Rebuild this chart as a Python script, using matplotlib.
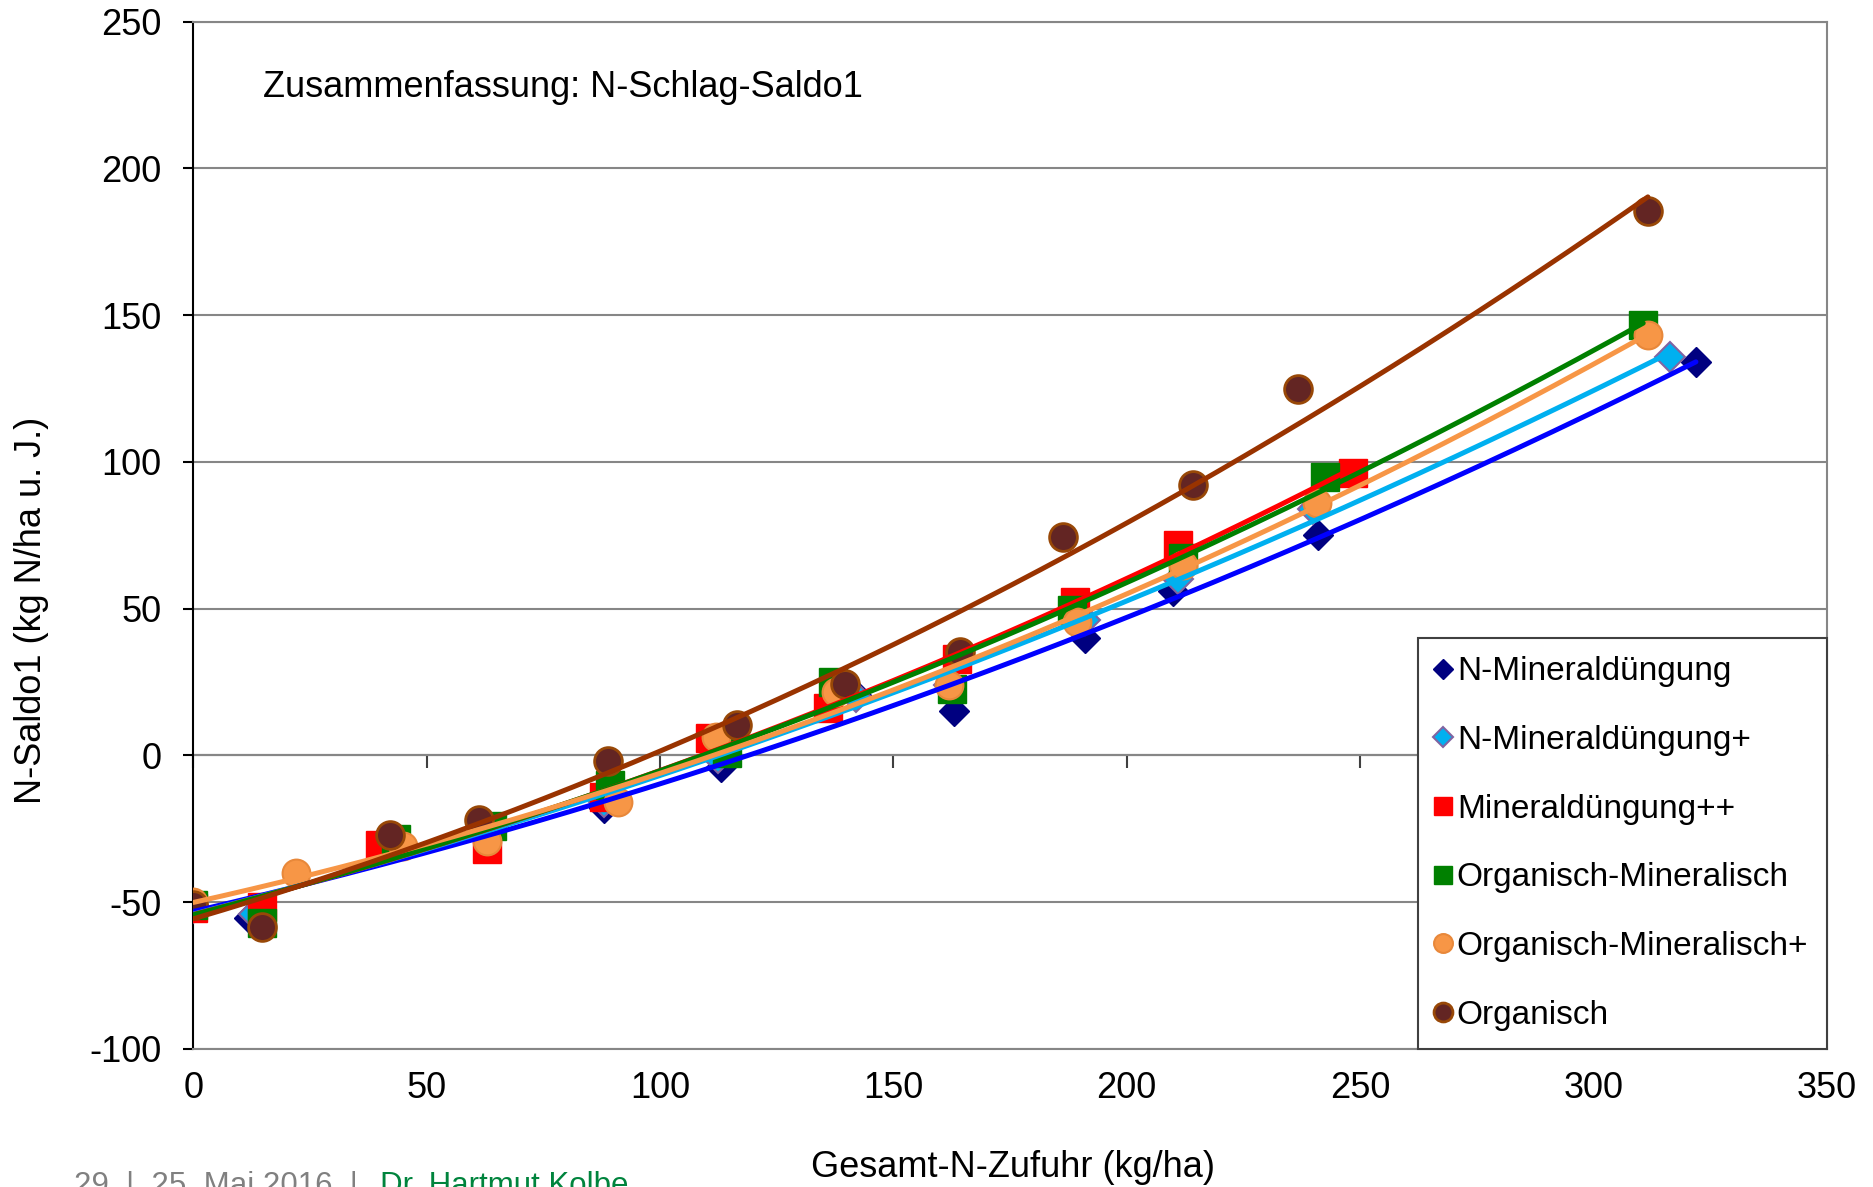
import numpy as np
import matplotlib
matplotlib.use("Agg")
import matplotlib.pyplot as plt

plt.rcParams['font.family'] = ['Liberation Sans', 'DejaVu Sans']
plt.rcParams['axes.unicode_minus'] = False

# Gesamt-N-Zufuhr (kg/ha) und N-Saldo1 (kg N/ha u. J.) je Variante
min_x = [0, 12, 41, 62, 88, 113, 142, 163, 191, 210, 241, 322]
min_y = [-51, -55.5, -31, -26, -18, -4, 20.5, 15, 40, 56, 75, 134]

minp_x = [0, 13, 41, 62, 88, 112.5, 142, 162, 191, 211, 240, 316.4]
minp_y = [-52, -54, -30, -26, -16, -1, 20, 24, 46, 60, 84, 135.8]

minpp_x = [0, 14.6, 40, 62.8, 88, 110.7, 136, 163.6, 189, 211, 248.6]
minpp_y = [-52, -51.6, -30.5, -31.7, -14, 5.8, 16, 33, 52.3, 71.7, 96.1]

orgmin_x = [0, 14.6, 43.5, 64, 89.3, 114.3, 137, 162.5, 188.2, 212, 242.5, 310.7]
orgmin_y = [-51, -57.2, -28.3, -24, -10, 0.7, 25, 22.8, 49.5, 67.1, 94.9, 146.6]

orgminp_x = [0, 22, 45, 62.8, 91, 112, 137.8, 162, 189.3, 212, 240.7, 311.8]
orgminp_y = [-50, -40.2, -31, -29, -16, 6.3, 21.7, 24, 45.5, 64.8, 86, 143.2]

org_x = [0, 14.6, 42.1, 61.2, 88.8, 116.4, 139.6, 164.3, 186.4, 214.3, 236.8, 311.7]
org_y = [-51, -58.4, -27, -22, -1.8, 10.3, 24.5, 35.3, 74.5, 92.1, 125, 185.5]

labels = ['N-Mineraldüngung', 'N-Mineraldüngung+', 'Mineraldüngung++',
          'Organisch-Mineralisch', 'Organisch-Mineralisch+', 'Organisch']

xticks = [0, 50, 100, 150, 200, 250, 300, 350]
yticks = [-100, -50, 0, 50, 100, 150, 200, 250]

series = [
    (min_x, min_y, dict(marker='D', ms=15, mfc='#000080', mec='#000080'), '#0000FF'),
    (minp_x, minp_y, dict(marker='D', ms=15, mfc='#00B0F0', mec='#8064A2', mew=1.5), '#00B0F0'),
    (minpp_x, minpp_y, dict(marker='s', ms=20, mfc='#FF0000', mec='#FF0000'), '#FF0000'),
    (orgmin_x, orgmin_y, dict(marker='s', ms=20, mfc='#008000', mec='#008000'), '#008000'),
    (orgminp_x, orgminp_y, dict(marker='o', ms=20, mfc='#F79646', mec='#E8883A', mew=1.5), '#F79646'),
    (org_x, org_y, dict(marker='o', ms=20, mfc='#632523', mec='#984807', mew=2), '#993300'),
]

fig = plt.figure(figsize=(18.73, 11.87), dpi=100)
ax = fig.add_axes([0.10331, 0.11626, 0.87191, 0.86554])

for (x, y, style, _), lab in zip(series, labels):
    ax.plot(x, y, linestyle='none', label=lab, zorder=3, **style)

# polynomische Trendlinien 2. Ordnung
for x, y, _, col in series:
    coef = np.polyfit(x, y, 2)
    xs = np.linspace(min(x), max(x), 200)
    ax.plot(xs, np.polyval(coef, xs), color=col, lw=3.6, zorder=4,
            solid_capstyle='round')

ax.set_xlim(0, 350)
ax.set_ylim(-100, 250)
ax.set_xticks(xticks)
ax.set_yticks(yticks)
ax.grid(axis='y', color='#868686', lw=1.5, zorder=0)
ax.grid(axis='x', visible=False)

for s in ['top', 'right', 'bottom']:
    ax.spines[s].set_color('#868686')
    ax.spines[s].set_linewidth(1.5)
ax.spines['left'].set_color('black')
ax.spines['left'].set_linewidth(1.5)

ax.tick_params(axis='x', length=0, pad=16, labelsize=26)
ax.tick_params(axis='y', length=7, width=1.5, pad=16, labelsize=26, direction='out')

# x-Achse schneidet bei y = 0
ylo, yhi = ax.get_ylim()
sec = ax.secondary_xaxis((0 - ylo) / (yhi - ylo))
sec.set_xticks(xticks)
sec.tick_params(axis='x', direction='out', length=9, width=1.5,
                labelbottom=False, labeltop=False, color='#404040')
for s in sec.spines.values():
    s.set_color('#404040')
    s.set_linewidth(1.5)

ax.set_xlabel('Gesamt-N-Zufuhr (kg/ha)', fontsize=26, va='center')
ax.xaxis.set_label_coords(0.502, -0.1158)
ax.set_ylabel('N-Saldo1 (kg N/ha u. J.)', fontsize=26, va='center')
ax.yaxis.set_label_coords(-0.0995, 0.427)

ax.text(0.0424, 0.936, 'Zusammenfassung: N-Schlag-Saldo1', transform=ax.transAxes,
        fontsize=26, va='center', ha='left')

leg = ax.legend(loc='lower right', bbox_to_anchor=(1, 0), borderaxespad=0,
                fontsize=24, markerscale=0.68, handlelength=0.4, handletextpad=0.22,
                labelspacing=1.13, borderpad=0.55, fancybox=False, framealpha=1,
                edgecolor='#404040')
leg.get_frame().set_linewidth(1.5)
leg.set_zorder(6)

fig.text(74 / 1873, -0.006, '29  |  25. Mai 2016  |', fontsize=22.5, color='#808080',
         va='baseline', ha='left')
fig.text(380 / 1873, -0.006, 'Dr. Hartmut Kolbe', fontsize=22.5, color='#00843D',
         va='baseline', ha='left')

fig.savefig('out.png', dpi=100)
